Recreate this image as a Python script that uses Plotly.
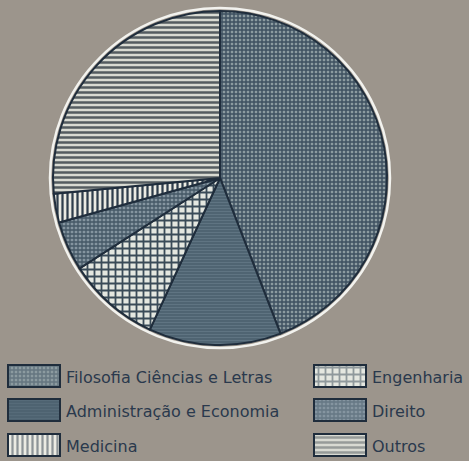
import plotly.graph_objects as go

# ---- data ----
categories = ["Filosofia Ciências e Letras", "Administração e Economia", "Engenharia",
              "Direito", "Medicina", "Outros"]
shares = [44.1, 12.8, 9.0, 4.8, 2.8, 26.5]

# ---- styles ----
BG = "#9c958c"
INK = "#1f2d3c"
TEXT = "#2a394d"
patterns = {
    "Filosofia Ciências e Letras": dict(shape="+", bgcolor="#8c9ba0", fgcolor="#3e5060", size=4, solidity=0.6),
    "Administração e Economia": dict(shape="-", bgcolor="#4d6270", fgcolor="#5f7482", size=3, solidity=0.4),
    "Engenharia": dict(shape="+", bgcolor="#e4e7e0", fgcolor="#3a4b58", size=7, solidity=0.45),
    "Direito": dict(shape="+", bgcolor="#8595a0", fgcolor="#455866", size=4, solidity=0.55),
    "Medicina": dict(shape="|", bgcolor="#ebebe3", fgcolor="#2f3e4c", size=5, solidity=0.45),
    "Outros": dict(shape="-", bgcolor="#d8dad2", fgcolor="#545c60", size=5, solidity=0.5),
}

# legend layout (pixel coordinates of the page)
leg_cols = [34, 340]          # swatch centre x per column
leg_rows = [376, 410, 445]    # row centre y
leg_cells = {
    "Filosofia Ciências e Letras": (0, 0), "Administração e Economia": (0, 1), "Medicina": (0, 2),
    "Engenharia": (1, 0), "Direito": (1, 1), "Outros": (1, 2),
}
SW_W, SW_H = 52, 22

W, H = 469, 461
cx, cy, r = 220, 178, 167

fig = go.Figure()

fig.add_trace(go.Pie(
    labels=categories, values=shares, sort=False, direction="clockwise", rotation=0,
    textinfo="none", hoverinfo="label+percent", showlegend=False,
    marker=dict(colors=[patterns[c]["bgcolor"] for c in categories],
                pattern=dict(shape=[patterns[c]["shape"] for c in categories],
                             fgcolor=[patterns[c]["fgcolor"] for c in categories],
                             bgcolor=[patterns[c]["bgcolor"] for c in categories],
                             size=[patterns[c]["size"] for c in categories],
                             solidity=[patterns[c]["solidity"] for c in categories]),
                line=dict(color=INK, width=2)),
    domain=dict(x=[(cx - r) / W, (cx + r) / W], y=[1 - (cy + r) / H, 1 - (cy - r) / H]),
))

annotations = []
for c in categories:
    col, row = leg_cells[c]
    p = patterns[c]
    fig.add_trace(go.Bar(
        x=[leg_cols[col]], y=[SW_H], base=[leg_rows[row] - SW_H / 2], width=[SW_W],
        marker=dict(color=p["bgcolor"], pattern=dict(shape=p["shape"], fgcolor=p["fgcolor"],
                                                     bgcolor=p["bgcolor"], size=p["size"],
                                                     solidity=p["solidity"]),
                    line=dict(color=INK, width=2)),
        showlegend=False, hoverinfo="skip", xaxis="x", yaxis="y"))
    annotations.append(dict(x=leg_cols[col] + SW_W / 2 + 4, y=leg_rows[row] + 1, xref="x", yref="y",
                            text=c, showarrow=False, xanchor="left", yanchor="middle",
                            font=dict(family="DejaVu Sans", size=16, color=TEXT)))

fig.update_layout(
    width=W, height=H, margin=dict(l=0, r=0, t=0, b=0),
    paper_bgcolor=BG, plot_bgcolor="rgba(0,0,0,0)",
    xaxis=dict(range=[0, W], domain=[0, 1], visible=False, fixedrange=True),
    yaxis=dict(range=[H, 0], domain=[0, 1], visible=False, fixedrange=True),
    barmode="overlay", annotations=annotations,
    shapes=[dict(type="circle", xref="paper", yref="paper", layer="below",
                 x0=(cx - r - 3) / W, x1=(cx + r + 3) / W,
                 y0=1 - (cy + r + 3) / H, y1=1 - (cy - r - 3) / H,
                 line=dict(color="#f2f2ee", width=2.5))],
)

fig.write_html("out.html", config={"displayModeBar": False},
               post_script="document.body.style.margin='0px';document.body.style.overflow='hidden';")
